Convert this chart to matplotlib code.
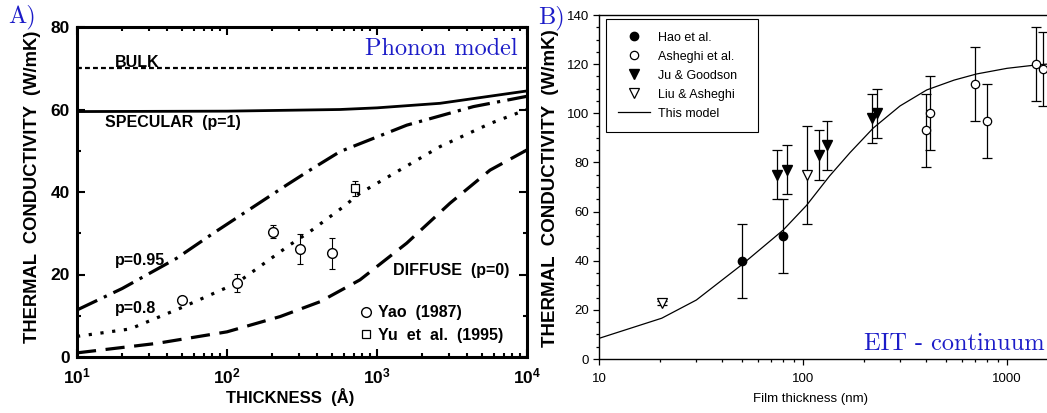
import matplotlib
matplotlib.use("Agg")
import matplotlib.pyplot as plt
import numpy as np
from matplotlib.ticker import FixedLocator, FuncFormatter, MultipleLocator, LogLocator, NullFormatter

plt.rcParams["font.family"] = ["Liberation Sans", "DejaVu Sans"]
plt.rcParams["mathtext.fontset"] = "custom"
plt.rcParams["mathtext.rm"] = "Liberation Sans"
plt.rcParams["mathtext.bf"] = "Liberation Sans:bold"

BLUE = "#1c1cc8"

# ---- panel A: phonon model (thickness in Angstrom) ----
bulk_x = [10, 10000]
bulk_y = [70, 70]
spec_x = [10, 100, 567, 1000, 2630, 10000]
spec_y = [59.5, 59.6, 60.0, 60.4, 61.5, 64.5]
p95_x = [10, 20, 46, 81, 150, 250, 357, 567, 1578, 4390, 10000]
p95_y = [11.4, 16.6, 23.9, 30.0, 36.4, 41.7, 45.3, 49.8, 56.2, 60.7, 63.2]
p80_x = [10, 22.6, 50, 116, 263, 357, 596, 770, 2630, 5670, 10000]
p80_y = [5.0, 6.8, 12.0, 17.9, 27.2, 30.4, 36.4, 39.7, 51.0, 56.6, 60.0]
diff_x = [10, 34, 100, 226, 417, 770, 1578, 3070, 5670, 10000]
diff_y = [1.0, 3.3, 6.1, 9.8, 13.4, 18.7, 27.6, 37.3, 45.3, 50.2]

yao_x = [50, 116, 204, 307, 503]
yao_y = [13.7, 17.9, 30.4, 26.2, 25.1]
yao_err = [0.8, 2.2, 1.6, 3.7, 3.8]
yu_x = [713]
yu_y = [40.9]
yu_err = [1.8]

# ---- panel B: EIT continuum (thickness in nm) ----
model_x = [10, 20.3, 30, 50, 80, 104, 135, 170, 221, 299, 404, 550, 709, 1000, 1400, 1570]
model_y = [8.4, 16.6, 24.0, 38.3, 52.5, 62.5, 74.5, 84.0, 94.0, 103.0, 109.5, 113.5,
           116.0, 118.3, 119.7, 120.0]
hao_x = [50, 80]
hao_y = [40, 50]
hao_err = [15, 15]
ash_x = [399, 420, 697, 802, 1387, 1496]
ash_y = [93, 100, 112, 97, 120, 118]
ash_err = [15, 15, 15, 15, 15, 15]
ju_x = [74.3, 83.2, 120, 130.6, 217, 230]
ju_y = [75, 77, 83, 87, 98, 100]
ju_err = [10, 10, 10, 10, 10, 10]
liu_x = [20.3, 105]
liu_y = [22.7, 75]
liu_err = [0.8, 20]

W, H = 1047, 413
fig = plt.figure(figsize=(W / 100, H / 100), dpi=100)


def px_axes(left, top, right, bottom):
    return fig.add_axes([left / W, (H - bottom) / H, (right - left) / W, (bottom - top) / H])


# ================= panel A =================
ax = px_axes(77, 27, 527, 357)
bold = dict(fontweight="bold", fontsize=11.5)

ax.plot(bulk_x, bulk_y, color="black", lw=1.6, dashes=(2.2, 1.4))
ax.plot(spec_x, spec_y, color="black", lw=2.0)
ax.plot(p95_x, p95_y, color="black", lw=2.3, dashes=(7.0, 2.3, 1.0, 2.3))
ax.plot(p80_x, p80_y, color="black", lw=2.3, dashes=(1.0, 2.7))
ax.plot(diff_x, diff_y, color="black", lw=2.3, dashes=(6.0, 3.0))

ax.errorbar(yao_x, yao_y, yerr=yao_err, fmt="none", ecolor="black",
            elinewidth=0.8, capsize=2.5, capthick=0.8)
ax.errorbar(yu_x, yu_y, yerr=yu_err, fmt="none", ecolor="black",
            elinewidth=0.8, capsize=2.5, capthick=0.8)
ax.plot(yao_x, yao_y, "o", ms=7, mfc="white", mec="black", mew=1.0,
        label="Yao  (1987)")
ax.plot(yu_x, yu_y, "s", ms=5.5, mfc="white", mec="black", mew=0.9,
        label="Yu  et  al.  (1995)")

ax.set_xscale("log")
ax.set_xlim(10, 10000)
ax.set_ylim(0, 80)
ax.yaxis.set_major_locator(MultipleLocator(20))
ax.yaxis.set_minor_locator(MultipleLocator(10))
ax.xaxis.set_major_locator(LogLocator(base=10, numticks=10))
ax.xaxis.set_minor_locator(LogLocator(base=10, subs=np.arange(2, 10), numticks=20))
ax.xaxis.set_minor_formatter(NullFormatter())
ax.xaxis.set_major_formatter(FuncFormatter(
    lambda v, p: r"$\mathbf{10^{%d}}$" % round(np.log10(v))))
ax.tick_params(which="both", direction="in", top=True, right=True, width=1.5)
ax.tick_params(which="major", length=6, labelsize=12.5, pad=5)
ax.tick_params(axis="x", which="major", pad=7)
ax.tick_params(which="minor", length=3)
for lab in ax.get_yticklabels():
    lab.set_fontweight("bold")
for sp in ax.spines.values():
    sp.set_linewidth(2.2)

ax.set_ylabel("THERMAL  CONDUCTIVITY  (W/mK)", fontweight="bold", fontsize=13.2)
ax.yaxis.set_label_coords(-0.08, 0.517)
ax.set_xlabel("THICKNESS  (Å)", fontweight="bold", fontsize=12)
ax.xaxis.set_label_coords(0.473, -0.093)

ax.text(0.084, 0.88, "BULK", transform=ax.transAxes, va="baseline", **bold)
ax.text(0.062, 0.698, "SPECULAR  (p=1)", transform=ax.transAxes, va="baseline", **bold)
ax.text(0.084, 0.279, "p=0.95", transform=ax.transAxes, va="baseline", **bold)
ax.text(0.084, 0.132, "p=0.8", transform=ax.transAxes, va="baseline", **bold)
ax.text(0.702, 0.248, "DIFFUSE  (p=0)", transform=ax.transAxes, va="baseline", **bold)
ax.text(0.98, 0.915, "Phonon model", transform=ax.transAxes, ha="right",
        va="baseline", family="cmr10", fontsize=17.5, color=BLUE)

ax.legend(loc="lower right", bbox_to_anchor=(0.98, 0.0), frameon=False,
          handlelength=0.8, handletextpad=0.4, labelspacing=0.45,
          borderpad=0.4, prop=dict(weight="bold", size=11.5))

fig.text(8 / W, (H - 22) / H, "A)", family="cmr10", fontsize=17.5, color=BLUE,
         va="baseline")

# ================= panel B =================
bx = px_axes(599, 15, 1047, 359)
eb = dict(fmt="none", ecolor="black", elinewidth=0.9, capsize=3.5, capthick=0.9)

bx.plot(model_x, model_y, color="black", lw=0.9, label="This model")
for xs, ys, es in [(hao_x, hao_y, hao_err), (ash_x, ash_y, ash_err),
                   (ju_x, ju_y, ju_err), (liu_x, liu_y, liu_err)]:
    bx.errorbar(xs, ys, yerr=es, **eb)
h1, = bx.plot(hao_x, hao_y, "o", ms=6, mfc="black", mec="black", label="Hao et al.")
h2, = bx.plot(ash_x, ash_y, "o", ms=6, mfc="white", mec="black", mew=0.9,
              label="Asheghi et al.")
h3, = bx.plot(ju_x, ju_y, "v", ms=6.5, mfc="black", mec="black", label="Ju & Goodson")
h4, = bx.plot(liu_x, liu_y, "v", ms=6.5, mfc="white", mec="black", mew=0.9,
              label="Liu & Asheghi")
h5 = bx.get_lines()[0]

bx.set_xscale("log")
bx.set_xlim(10, 1570)
bx.set_ylim(0, 140)
bx.yaxis.set_major_locator(MultipleLocator(20))
bx.yaxis.set_minor_locator(MultipleLocator(5))
bx.xaxis.set_major_locator(FixedLocator([10, 100, 1000]))
bx.xaxis.set_minor_locator(LogLocator(base=10, subs=np.arange(2, 10), numticks=20))
bx.xaxis.set_minor_formatter(NullFormatter())
bx.xaxis.set_major_formatter(FuncFormatter(lambda v, p: "%d" % v))
bx.spines["right"].set_visible(False)
for sp in ("left", "bottom", "top"):
    bx.spines[sp].set_linewidth(1.0)
bx.tick_params(which="both", direction="out", width=0.9)
bx.tick_params(which="major", length=4, labelsize=9.5, pad=3)
bx.tick_params(axis="x", which="major", pad=6)
bx.tick_params(which="minor", length=2.5)

bx.set_ylabel("THERMAL  CONDUCTIVITY  (W/mK)", fontweight="bold", fontsize=13.5)
bx.yaxis.set_label_coords(-0.089, 0.496)
bx.set_xlabel("Film thickness (nm)", fontsize=9.5)
bx.xaxis.set_label_coords(0.473, -0.1)

bx.text(0.995, 0.025, "EIT - continuum", transform=bx.transAxes, ha="right",
        va="baseline", family="cmr10", fontsize=17.5, color=BLUE)

leg = bx.legend([h1, h2, h3, h4, h5],
                ["Hao et al.", "Asheghi et al.", "Ju & Goodson", "Liu & Asheghi", "This model"],
                loc="upper left", bbox_to_anchor=(0.0156, 0.662, 0.339, 0.326),
                mode="expand", borderaxespad=0, fancybox=False, framealpha=1,
                edgecolor="black", fontsize=9, handlelength=2.5, handletextpad=0.65,
                labelspacing=0.56, borderpad=1.0)
leg.get_frame().set_linewidth(0.8)

fig.text(538 / W, (H - 23) / H, "B)", family="cmr10", fontsize=17.5, color=BLUE,
         va="baseline")

fig.savefig("out.png", dpi=100)
